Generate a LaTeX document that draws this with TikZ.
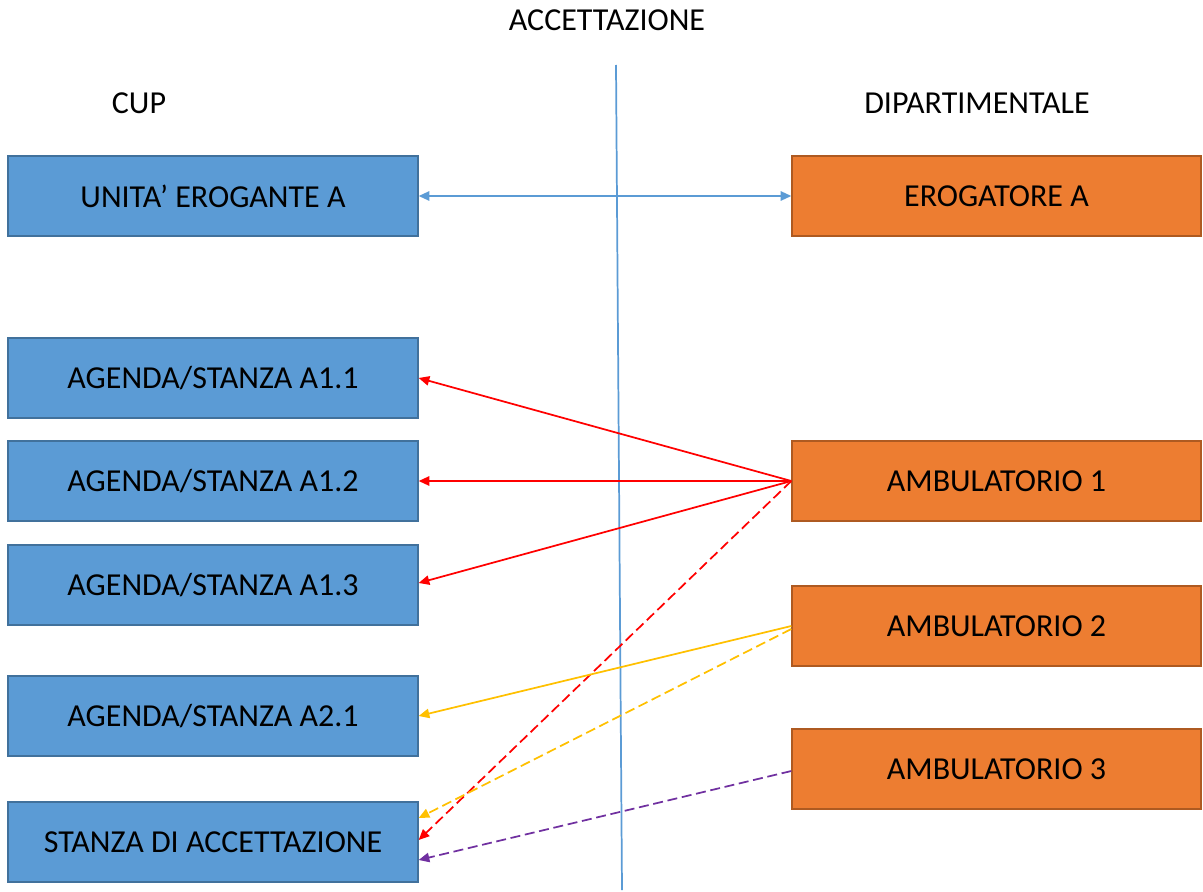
\documentclass[tikz,border=0pt]{standalone}
\usepackage{fontspec}
\setmainfont{Carlito}
\usetikzlibrary{arrows.meta,calc}
\definecolor{bfill}{HTML}{5B9BD5}
\definecolor{bdraw}{HTML}{41719C}
\definecolor{ofill}{HTML}{ED7D31}
\definecolor{odraw}{HTML}{AE5A21}
\definecolor{cred}{HTML}{FF0000}
\definecolor{cyel}{HTML}{FFC000}
\definecolor{cpur}{HTML}{7030A0}
\begin{document}
\begin{tikzpicture}[x=0.75pt,y=-0.75pt,
  lbox/.style={draw=bdraw,fill=bfill,line width=1pt,minimum width=410*0.75pt,minimum height=80*0.75pt,inner sep=0pt,font=\fontsize{24}{28}\selectfont},
  rbox/.style={draw=odraw,fill=ofill,line width=1pt,minimum width=409*0.75pt,minimum height=80*0.75pt,inner sep=0pt,font=\fontsize{24}{28}\selectfont},
  title/.style={font=\fontsize{24}{28}\selectfont,inner sep=0pt},
  conn/.style={line width=1.3pt,-{Triangle[length=8pt,width=7pt]}},
  dsh/.style={dash pattern=on 7.5pt off 3.5pt}]
\useasboundingbox (0,0) rectangle (1203,892);
\node[title] (acc) at (607,20) {ACCETTAZIONE};
\node[title] (cup) at (139,103) {CUP};
\node[title] (dip) at (977,103) {DIPARTIMENTALE};
\coordinate (vtop) at (616,65);
\coordinate (vbot) at (622,890);
\draw[bfill,line width=1.3pt] (vtop) -- (vbot);
\node[lbox] (ua) at (213,196) {UNITA’ EROGANTE A};
\node[lbox] (a11) at (213,378) {AGENDA/STANZA A1.1};
\node[lbox] (a12) at (213,481) {AGENDA/STANZA A1.2};
\node[lbox] (a13) at (213,585) {AGENDA/STANZA A1.3};
\node[lbox] (a21) at (213,716) {AGENDA/STANZA A2.1};
\node[lbox] (st) at (213,842) {STANZA DI ACCETTAZIONE};
\node[rbox] (ea) at (996.5,196) {EROGATORE A};
\node[rbox] (am1) at (996.5,481) {AMBULATORIO 1};
\node[rbox] (am2) at (996.5,626) {AMBULATORIO 2};
\node[rbox] (am3) at (996.5,769) {AMBULATORIO 3};
\draw[bfill,line width=1.3pt,{Triangle[length=8pt,width=7pt]}-{Triangle[length=8pt,width=7pt]}] (ua.east) -- (ea.west);
\draw[conn,cred] (am1.west) -- (a11.east);
\draw[conn,cred] (am1.west) -- (a12.east);
\draw[conn,cred] (am1.west) -- ($(a13.east)+(0,-2)$);
\draw[conn,cred,dsh] (am1.west) -- ($(st.east)+(0,-2)$);
\draw[conn,cyel] (am2.west) -- (a21.east);
\draw[conn,cyel,dsh] ($(am2.west)+(0,3)$) -- ($(st.east)+(0,-24)$);
\draw[conn,cpur,dsh] ($(am3.west)+(0,2)$) -- ($(st.east)+(0,18)$);
\end{tikzpicture}
\end{document}
